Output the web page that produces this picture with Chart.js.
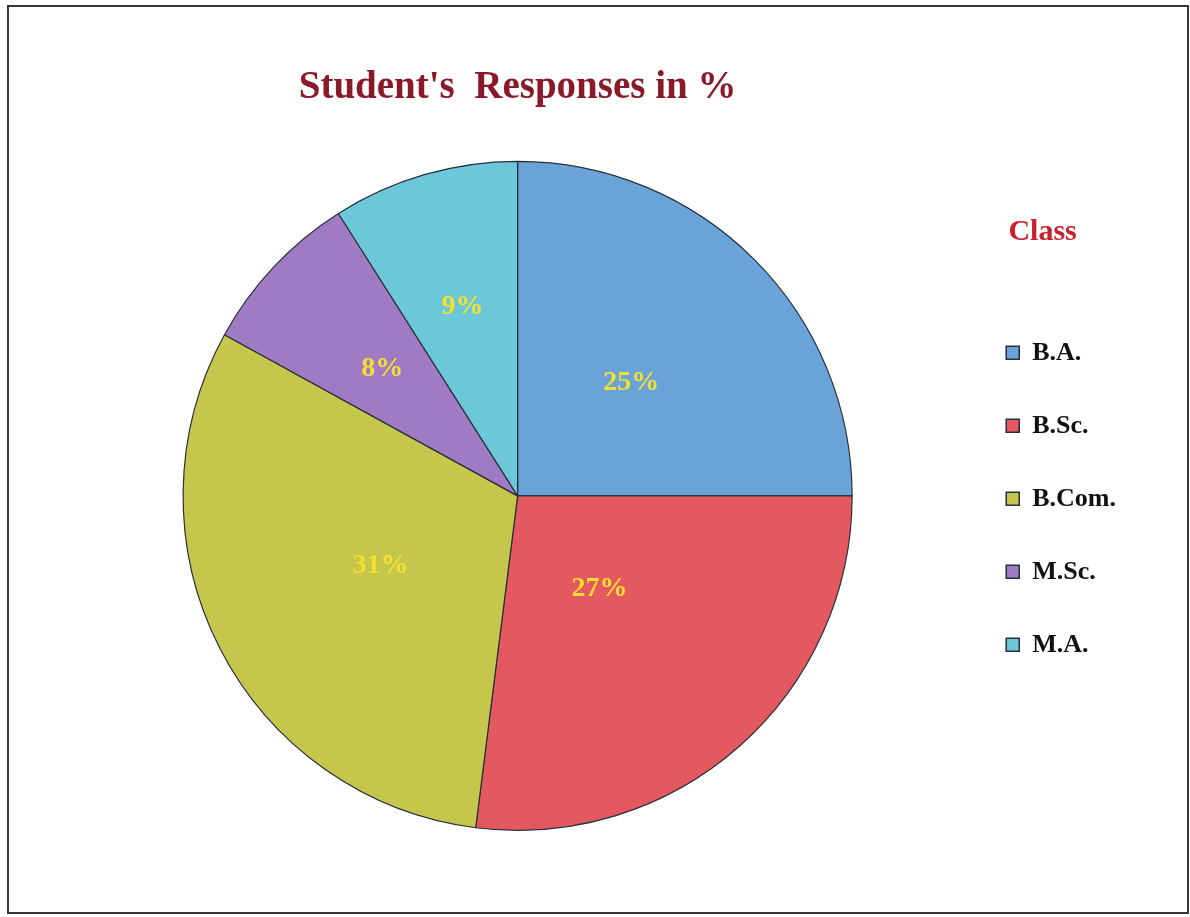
<!DOCTYPE html>
<html lang="en">
<head>
    <meta charset="UTF-8">
    <title>Student's Responses in %</title>
    <script src="https://cdn.jsdelivr.net/npm/chart.js"></script>
    <style>
        body {
            margin: 0;
            background-color: white;
        }
        #wrap {
            position: relative;
            width: 1190px;
            height: 917px;
        }
        #frame {
            position: absolute;
            left: 7px;
            top: 5px;
            width: 1178px;
            height: 905px;
            border: 2px solid #3b3437;
            pointer-events: none;
        }
    </style>
</head>
<body>
<div id="wrap">
    <canvas id="chart" width="1190" height="917"></canvas>
    <div id="frame"></div>
</div>

<script>
    const classes = ["B.A.", "B.Sc.", "B.Com.", "M.Sc.", "M.A."];
    const responses = [25, 27, 31, 8, 9];
    const sliceColors = ["#6aa3d8", "#e4585f", "#c5c74c", "#a07bc3", "#6cc8d8"];
    // how far out (fraction of radius) each % label sits
    const labelPos = [0.48, 0.37, 0.46, 0.555, 0.59];

    const serif = "'Liberation Serif', 'Times New Roman', serif";

    const pctLabels = {
        id: 'pctLabels',
        afterDatasetsDraw(chart) {
            const ctx = chart.ctx;
            const arcs = chart.getDatasetMeta(0).data;
            ctx.save();
            ctx.font = "bold 28px " + serif;
            ctx.fillStyle = "#f5df30";
            ctx.textAlign = "center";
            ctx.textBaseline = "middle";
            arcs.forEach(function(arc, i) {
                const p = arc.getProps(['x', 'y', 'startAngle', 'endAngle', 'outerRadius'], true);
                const mid = (p.startAngle + p.endAngle) / 2;
                const r = p.outerRadius * labelPos[i];
                ctx.fillText(responses[i] + "%", p.x + Math.cos(mid) * r, p.y + Math.sin(mid) * r);
            });
            ctx.restore();
        }
    };

    const ctx = document.getElementById('chart').getContext('2d');
    const myChart = new Chart(ctx, {
        type: 'pie',
        data: {
            labels: classes,
            datasets: [{
                data: responses,
                backgroundColor: sliceColors,
                borderColor: "#26303a",
                borderWidth: 1.2
            }]
        },
        options: {
            responsive: false,
            animation: false,
            layout: {
                padding: {left: 76, right: 64, top: 0, bottom: 86}
            },
            plugins: {
                tooltip: {enabled: false},
                title: {
                    display: true,
                    fullSize: false,
                    text: "Student's  Responses in %",
                    color: "#8a1a2a",
                    font: {family: serif, size: 39, weight: 'bold'},
                    padding: {top: 65, bottom: 49}
                },
                legend: {
                    position: 'right',
                    align: 'start',
                    fullSize: false,
                    title: {
                        display: true,
                        text: "Class",
                        color: "#c8202c",
                        position: 'center',
                        font: {family: serif, size: 30, weight: 'bold'},
                        padding: {top: 56, bottom: 40}
                    },
                    labels: {
                        color: "#111111",
                        boxWidth: 13,
                        boxHeight: 13,
                        padding: 47,
                        font: {family: serif, size: 26, weight: 'bold'},
                        generateLabels(chart) {
                            return classes.map(function(c, i) {
                                return {
                                    text: c,
                                    fillStyle: sliceColors[i],
                                    strokeStyle: "#26303a",
                                    fontColor: "#111111",
                                    lineWidth: 1.5,
                                    index: i
                                };
                            });
                        }
                    }
                }
            }
        },
        plugins: [pctLabels]
    });
</script>
</body>
</html>
